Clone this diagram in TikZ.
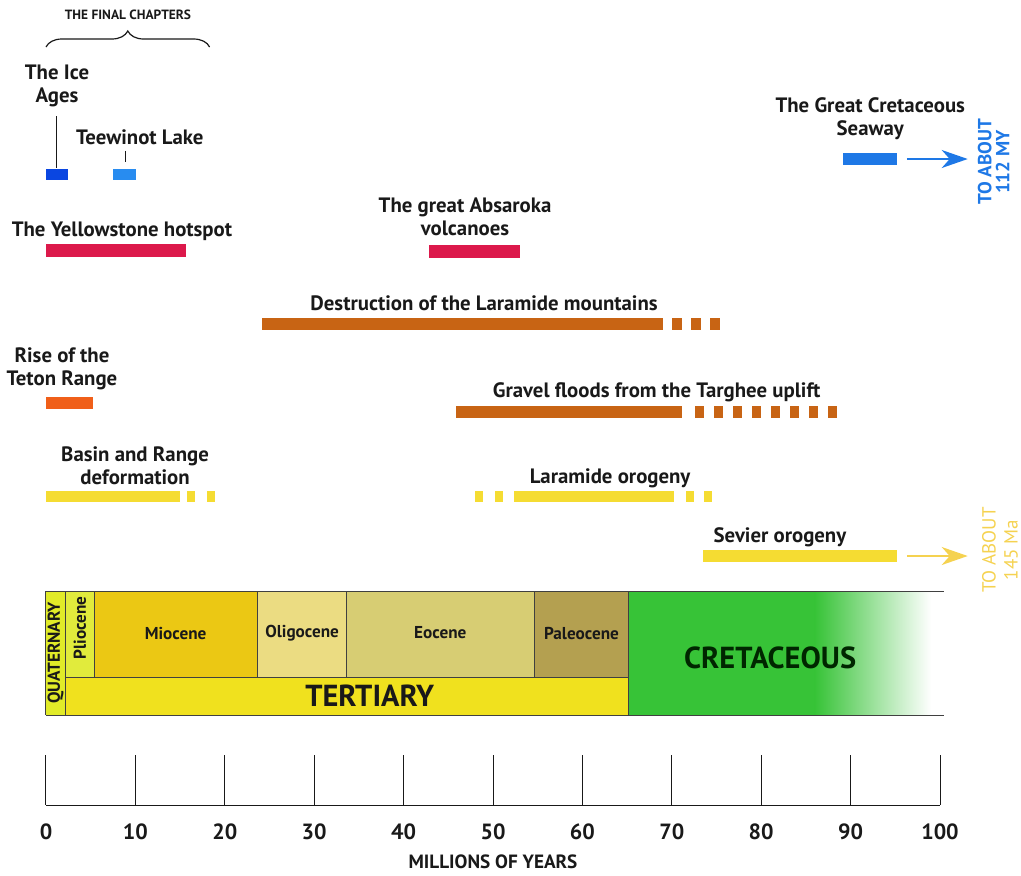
\documentclass[tikz,border=0pt]{standalone}
\usepackage{fontspec}
\setmainfont{PT Sans}
\usetikzlibrary{decorations.pathreplacing,arrows.meta}
\definecolor{iceblue}{RGB}{10,70,225}
\definecolor{lakeblue}{RGB}{40,140,240}
\definecolor{seablue}{RGB}{30,120,230}
\definecolor{hotred}{RGB}{220,25,75}
\definecolor{laramide}{RGB}{200,100,20}
\definecolor{teton}{RGB}{240,95,25}
\definecolor{basinyel}{RGB}{245,220,50}
\definecolor{arrowyel}{RGB}{245,210,80}
\definecolor{quatcol}{RGB}{225,235,40}
\definecolor{pliocol}{RGB}{225,235,60}
\definecolor{miocol}{RGB}{235,200,20}
\definecolor{oligcol}{RGB}{235,220,130}
\definecolor{eocol}{RGB}{215,205,115}
\definecolor{paleocol}{RGB}{180,160,80}
\definecolor{tertcol}{RGB}{240,225,30}
\definecolor{cretcol}{RGB}{55,195,55}
\definecolor{cretlight}{RGB}{110,230,100}
\definecolor{inkcol}{RGB}{25,25,25}
\begin{document}
\begin{tikzpicture}[x=4.47pt,y=-0.5pt]
            \tikzset{
                lbl/.style={font=\bfseries\fontsize{10.4}{11.5}\selectfont, align=center, inner sep=0pt, text=inkcol},
                epoch/.style={font=\bfseries\fontsize{8.6}{9}\selectfont, inner sep=0pt, text=inkcol},
                period/.style={font=\bfseries\fontsize{15.2}{16}\selectfont, inner sep=0pt, text=inkcol},
                tick/.style={line width=0.5pt, inkcol},
                cell/.style={line width=0.5pt, black!75},
                arr/.style={line width=1pt, -{Stealth[length=13pt,width=9pt,inset=4pt]}},}
            \useasboundingbox (-5.145,0) rectangle (109.06,875);
            % the last few million years
            \node[lbl, font=\bfseries\fontsize{6.7}{7}\selectfont] (final) at (9.17,15) {THE FINAL CHAPTERS};
            \draw [line width=0.6pt, inkcol, decorate, decoration={brace,amplitude=8pt}] (0,47) -- (18.3,47);
            \node[lbl] (ice) at (1.23,86) {The Ice\\Ages};
            \coordinate (icebar) at (1.15,168);
            \fill[iceblue] (0,169) rectangle (2.5,180);
            \draw[tick] (ice.south -| icebar) ++(0,9) -- (icebar);
            \node[lbl] (tee) at (10.5,137) {Teewinot Lake};
            \coordinate (teebar) at (8.84,162);
            \fill[lakeblue] (7.5,169) rectangle (10.05,180);
            \draw[tick] (tee.south -| teebar) ++(0,6) -- (teebar);
            % seaway
            \node[lbl] (sea) at (92.2,119) {The Great Cretaceous\\Seaway};
            \fill[seablue] (89.15,153) rectangle (95.2,165);
            \coordinate (seaend) at (96.3,159);
            \coordinate (seatip) at (103.1,159);
            \draw[arr, seablue] (seaend) -- (seatip);
            \node[lbl, rotate=90, text=seablue, font=\bfseries\fontsize{9.5}{9}\selectfont] (sealong) at (106.0,162) {TO ABOUT\\112 MY};
            % volcanism
            \node[lbl] (yell) at (8.5,231) {The Yellowstone hotspot};
            \fill[hotred] (0,244) rectangle (15.66,257);
            \node[lbl] (absa) at (46.87,217) {The great Absaroka\\volcanoes};
            \fill[hotred] (42.84,245) rectangle (53.02,258);
            % erosion
            \node[lbl] (destr) at (49.0,303) {Destruction of the Laramide mountains};
            \fill[laramide] (24.16,318) rectangle (69.0,330);
            \foreach \s in {70.0,72.13,74.26}
                \fill[laramide] (\s,318) rectangle ++(1.1,12);
            \node[lbl] (teton) at (1.79,369) {Rise of the\\Teton Range};
            \fill[teton] (0,397) rectangle (5.26,409);
            \node[lbl] (grav) at (68.3,392) {Gravel floods from the Targhee uplift};
            \fill[laramide] (45.86,406) rectangle (71.14,418);
            \foreach \k in {0,...,7}
                \fill[laramide] ({72.6+2.13*\k},406) rectangle ++(1.0,12);
            % deformation
            \node[lbl] (basin) at (9.96,466) {Basin and Range\\deformation};
            \fill[basinyel] (0,491) rectangle (15.0,502);
            \foreach \s in {15.8,18.0}
                \fill[basinyel] (\s,491) rectangle ++(0.9,11);
            \node[lbl] (laram) at (63.1,478) {Laramide orogeny};
            \fill[basinyel] (52.3,491) rectangle (70.2,502);
            \foreach \s in {48.0,50.2,71.6,73.6}
                \fill[basinyel] (\s,491) rectangle ++(0.9,11);
            \node[lbl] (sev) at (82.1,537) {Sevier orogeny};
            \fill[basinyel] (73.5,550) rectangle (95.2,562);
            \coordinate (sevend) at (96.3,556);
            \coordinate (sevtip) at (103.1,556);
            \draw[arr, arrowyel] (sevend) -- (sevtip);
            \node[rotate=90, align=center, inner sep=0pt, text=arrowyel, font=\fontsize{9.5}{11}\selectfont] (sevlong) at (106.7,550) {TO ABOUT\\145 Ma};
            % time scale
            \fill[quatcol] (0,591) rectangle (2.13,715);
            \fill[pliocol] (2.13,591) rectangle (5.48,677);
            \fill[miocol] (5.48,591) rectangle (23.7,677);
            \fill[oligcol] (23.7,591) rectangle (33.6,677);
            \fill[eocol] (33.6,591) rectangle (54.6,677);
            \fill[paleocol] (54.6,591) rectangle (65.2,677);
            \fill[tertcol] (2.13,677) rectangle (65.2,715);
            \fill[cretcol] (65.2,591) rectangle (86,715);
            \shade[left color=cretcol, middle color=cretlight, right color=white] (86,591) rectangle (99,715);
            \draw[cell] (0,591) -- (100.5,591) (0,715) -- (100.5,715) (0,591) -- (0,715);
            \foreach \e in {2.13,65.2}
                \draw[cell] (\e,591) -- (\e,715);
            \foreach \e in {5.48,23.7,33.6,54.6}
                \draw[cell] (\e,591) -- (\e,677);
            \draw[cell] (2.13,677) -- (65.2,677);
            \node[epoch, rotate=90] (quat) at (1.07,653) {QUATERNARY};
            \node[epoch, rotate=90] (plio) at (3.8,628) {Pliocene};
            \node[epoch] (mio) at (14.5,633) {Miocene};
            \node[epoch] (olig) at (28.65,633) {Oligocene};
            \node[epoch] (eoc) at (44.1,633) {Eocene};
            \node[epoch] (paleo) at (59.9,633) {Paleocene};
            \node[period] (tert) at (36.2,696) {TERTIARY};
            \node[period, text=black!85!green] (cret) at (81.0,658) {CRETACEOUS};
            % axis
            \draw[tick] (0,805) -- (100,805);
            \foreach \t in {0,10,...,100}{
                \draw[tick] (\t,755) -- (\t,805);
                \node[inner sep=0pt, text=inkcol, font=\bfseries\fontsize{11}{12}\selectfont] (lab\t) at (\t,832) {\t};}
            \node[inner sep=0pt, text=inkcol, font=\bfseries\fontsize{9.6}{11}\selectfont] (myears) at (50,862) {MILLIONS OF YEARS};
        \end{tikzpicture}
\end{document}
